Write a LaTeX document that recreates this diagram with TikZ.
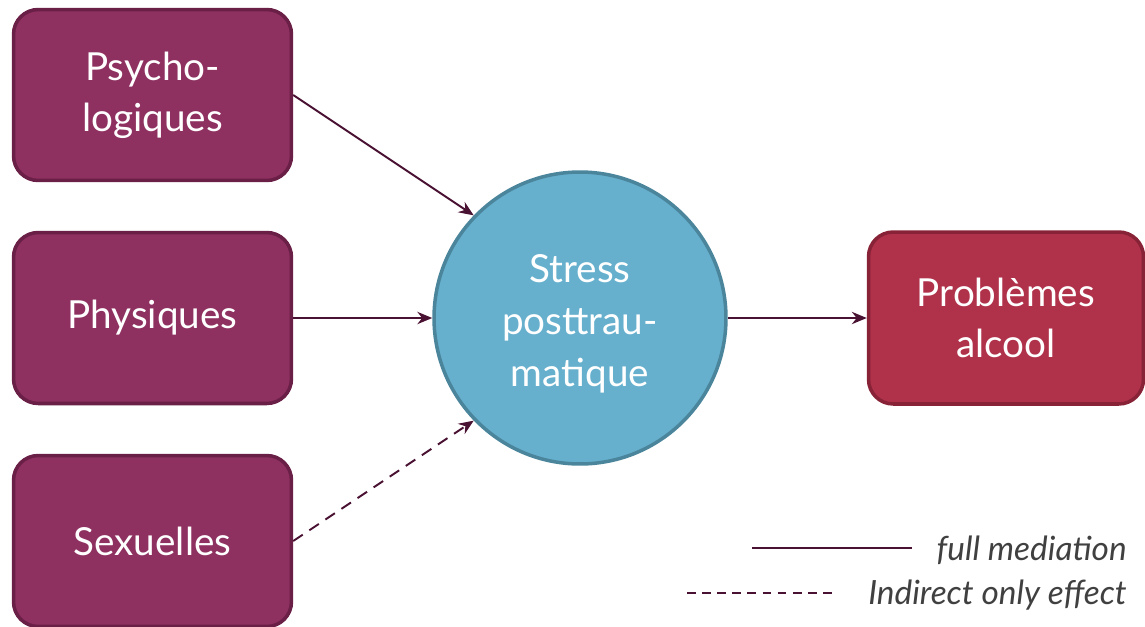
\documentclass[tikz,border=0pt]{standalone}
\usepackage{fontspec}
\setmainfont{Lato}
\usetikzlibrary{arrows.meta}
\definecolor{boxfill}{HTML}{8E3060}
\definecolor{boxline}{HTML}{6A1F47}
\definecolor{probfill}{HTML}{B0314A}
\definecolor{probline}{HTML}{882236}
\definecolor{circfill}{HTML}{66B0CE}
\definecolor{circline}{HTML}{4A859C}
\definecolor{arrowcol}{HTML}{4A1232}
\definecolor{legtext}{HTML}{404040}
\begin{document}
\begin{tikzpicture}[x=0.02cm,y=-0.02cm,
  catbox/.style={draw=boxline,fill=boxfill,line width=2pt,rounded corners=14pt,
    minimum width=5.56cm,minimum height=3.42cm,inner sep=0pt,text=white,
    align=center,font=\fontsize{22}{29}\selectfont},
  probbox/.style={catbox,draw=probline,fill=probfill,minimum width=5.5cm,minimum height=3.44cm},
  medcirc/.style={circle,draw=circline,fill=circfill,line width=2pt,minimum size=5.84cm,
    inner sep=0pt},
  circtext/.style={text=white,align=center,inner sep=0pt,font=\fontsize{22}{29.5}\selectfont},
  conn/.style={draw=arrowcol,line width=1.1pt,-{Stealth[length=8.5pt,width=7pt]}},
  legline/.style={draw=arrowcol,line width=1.1pt},
  legtxt/.style={text=legtext,font=\fontsize{19}{22}\selectfont\itshape,anchor=east,inner sep=0pt}]
\useasboundingbox (0,0) rectangle (1145,626);
\node[catbox] (psy) at (152.5,95) {Psycho-\\logiques};
\node[catbox] (phy) at (152.5,318) {Physiques};
\node[catbox] (sex) at (152.5,541) {Sexuelles};
\node[medcirc] (st) at (580,318) {};
\node[circtext] (stt) at (580,324) {Stress\\posttrau-\\matique};
\node[probbox] (prob) at (1006,318) {Problèmes\\alcool};
\draw[conn] (psy.east) -- (st.136);
\draw[conn] (phy.east) -- (st.west);
\draw[conn,dash pattern=on 6.5pt off 4.5pt] (sex.east) -- (st.224);
\draw[conn] (st.east) -- (prob.west);
\coordinate (l1a) at (752,548);
\coordinate (l1b) at (912,548);
\coordinate (l2a) at (687,593);
\coordinate (l2b) at (838,593);
\draw[legline] (l1a) -- (l1b);
\draw[legline,dash pattern=on 5pt off 3.6pt] (l2a) -- (l2b);
\node[legtxt] (t1) at (1127,550) {full mediation};
\node[legtxt] (t2) at (1127,595) {Indirect only effect};
\end{tikzpicture}
\end{document}
